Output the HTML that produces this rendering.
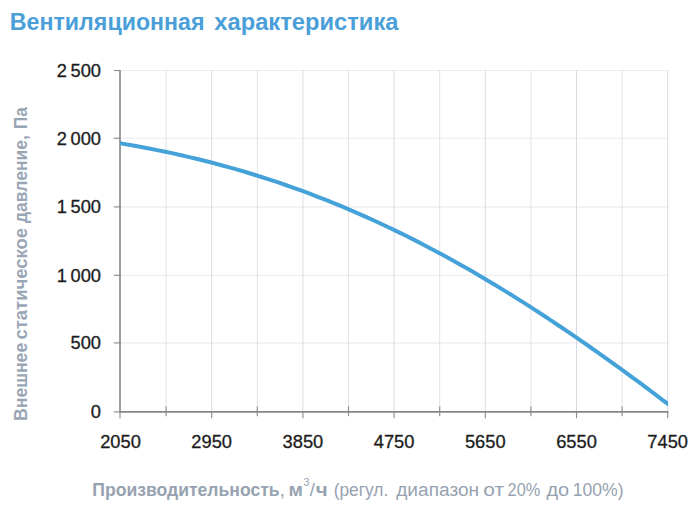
<!DOCTYPE html>
<html><head><meta charset="utf-8"><style>
html,body{margin:0;padding:0;background:#fff;}
body{width:700px;height:512px;overflow:hidden;position:relative;font-family:"Liberation Sans",sans-serif;}
svg{position:absolute;left:0;top:0;}
text{font-family:"Liberation Sans",sans-serif;}
</style></head><body>
<svg width="700" height="512" viewBox="0 0 700 512">
<g fill="#4a9fd9"><text x="9.85" y="30.00" font-size="24.8" font-weight="bold" textLength="194.67" lengthAdjust="spacingAndGlyphs">Вентиляционная</text><text x="214.34" y="30.00" font-size="24.8" font-weight="bold" textLength="184.11" lengthAdjust="spacingAndGlyphs">характеристика</text></g>
<g><line x1="120.0" y1="342.90" x2="667.7" y2="342.90" stroke="#ebecef" stroke-width="1.1"/><line x1="120.0" y1="275.30" x2="667.7" y2="275.30" stroke="#ebecef" stroke-width="1.1"/><line x1="120.0" y1="206.90" x2="667.7" y2="206.90" stroke="#ebecef" stroke-width="1.1"/><line x1="120.0" y1="138.30" x2="667.7" y2="138.30" stroke="#ebecef" stroke-width="1.1"/><line x1="120.0" y1="70.50" x2="667.7" y2="70.50" stroke="#ebecef" stroke-width="1.1"/><line x1="166.10" y1="70.5" x2="166.10" y2="411.9" stroke="#dfe2e7" stroke-width="1"/><line x1="211.70" y1="70.5" x2="211.70" y2="411.9" stroke="#d6dbe3" stroke-width="1"/><line x1="257.30" y1="70.5" x2="257.30" y2="411.9" stroke="#dfe2e7" stroke-width="1"/><line x1="302.90" y1="70.5" x2="302.90" y2="411.9" stroke="#d6dbe3" stroke-width="1"/><line x1="348.50" y1="70.5" x2="348.50" y2="411.9" stroke="#dfe2e7" stroke-width="1"/><line x1="394.10" y1="70.5" x2="394.10" y2="411.9" stroke="#d6dbe3" stroke-width="1"/><line x1="439.70" y1="70.5" x2="439.70" y2="411.9" stroke="#dfe2e7" stroke-width="1"/><line x1="485.30" y1="70.5" x2="485.30" y2="411.9" stroke="#d6dbe3" stroke-width="1"/><line x1="530.90" y1="70.5" x2="530.90" y2="411.9" stroke="#dfe2e7" stroke-width="1"/><line x1="576.50" y1="70.5" x2="576.50" y2="411.9" stroke="#d6dbe3" stroke-width="1"/><line x1="622.10" y1="70.5" x2="622.10" y2="411.9" stroke="#dfe2e7" stroke-width="1"/><line x1="667.70" y1="70.5" x2="667.70" y2="411.9" stroke="#d6dbe3" stroke-width="1"/></g>
<g stroke="#8e8e8e" stroke-width="1.15"><line x1="113.8" y1="411.90" x2="120.0" y2="411.90"/><line x1="113.8" y1="342.90" x2="120.0" y2="342.90"/><line x1="113.8" y1="275.30" x2="120.0" y2="275.30"/><line x1="113.8" y1="206.90" x2="120.0" y2="206.90"/><line x1="113.8" y1="138.30" x2="120.0" y2="138.30"/><line x1="113.8" y1="70.50" x2="120.0" y2="70.50"/><line x1="120.00" y1="411.9" x2="120.00" y2="418.20"/><line x1="166.10" y1="406.40" x2="166.10" y2="416.20"/><line x1="211.70" y1="411.9" x2="211.70" y2="418.20"/><line x1="257.30" y1="406.40" x2="257.30" y2="416.20"/><line x1="302.90" y1="411.9" x2="302.90" y2="418.20"/><line x1="348.50" y1="406.40" x2="348.50" y2="416.20"/><line x1="394.10" y1="411.9" x2="394.10" y2="418.20"/><line x1="439.70" y1="406.40" x2="439.70" y2="416.20"/><line x1="485.30" y1="411.9" x2="485.30" y2="418.20"/><line x1="530.90" y1="406.40" x2="530.90" y2="416.20"/><line x1="576.50" y1="411.9" x2="576.50" y2="418.20"/><line x1="622.10" y1="406.40" x2="622.10" y2="416.20"/><line x1="667.70" y1="411.9" x2="667.70" y2="418.20"/></g>
<line x1="120.0" y1="70.0" x2="120.0" y2="412.65" stroke="#858585" stroke-width="1.6"/>
<line x1="120.0" y1="411.9" x2="668.45" y2="411.9" stroke="#858585" stroke-width="1.6"/>
<defs><clipPath id="pc"><rect x="120.0" y="0" width="548.00" height="512"/></clipPath></defs>
<path d="M117.0,142.8 L125.0,144.1 L133.1,145.5 L141.1,147.0 L149.1,148.5 L157.1,150.1 L165.2,151.7 L173.2,153.4 L181.2,155.2 L189.3,157.1 L197.3,159.0 L205.3,161.0 L213.3,163.0 L221.4,165.2 L229.4,167.4 L237.4,169.7 L245.5,172.0 L253.5,174.5 L261.5,177.0 L269.6,179.6 L277.6,182.2 L285.6,185.0 L293.6,187.8 L301.7,190.7 L309.7,193.7 L317.7,196.8 L325.8,199.9 L333.8,203.1 L341.8,206.4 L349.8,209.8 L357.9,213.3 L365.9,216.9 L373.9,220.5 L382.0,224.2 L390.0,228.0 L398.0,231.9 L406.0,235.8 L414.1,239.9 L422.1,244.0 L430.1,248.2 L438.2,252.5 L446.2,256.8 L454.2,261.2 L462.2,265.7 L470.3,270.3 L478.3,275.0 L486.3,279.7 L494.4,284.5 L502.4,289.4 L510.4,294.3 L518.4,299.4 L526.5,304.4 L534.5,309.6 L542.5,314.8 L550.6,320.1 L558.6,325.5 L566.6,330.9 L574.7,336.4 L582.7,341.9 L590.7,347.5 L598.7,353.2 L606.8,358.9 L614.8,364.6 L622.8,370.4 L630.9,376.3 L638.9,382.2 L646.9,388.2 L654.9,394.2 L663.0,400.3 L671.0,406.3" clip-path="url(#pc)" fill="none" stroke="#45a2d9" stroke-width="4" stroke-linecap="butt" stroke-linejoin="round"/>
<g font-size="18.3" fill="#1c1c1c" stroke="#1c1c1c" stroke-width="0.3"><text x="101" y="418.20" text-anchor="end">0</text><text x="101" y="349.20" text-anchor="end">500</text><text x="101" y="281.60" text-anchor="end">1 000</text><text x="101" y="213.20" text-anchor="end">1 500</text><text x="101" y="144.60" text-anchor="end">2 000</text><text x="101" y="76.80" text-anchor="end">2 500</text><text x="120.50" y="447.6" text-anchor="middle">2050</text><text x="211.70" y="447.6" text-anchor="middle">2950</text><text x="302.90" y="447.6" text-anchor="middle">3850</text><text x="394.10" y="447.6" text-anchor="middle">4750</text><text x="485.30" y="447.6" text-anchor="middle">5650</text><text x="576.50" y="447.6" text-anchor="middle">6550</text><text x="667.70" y="447.6" text-anchor="middle">7450</text></g>
<g transform="translate(26.8,0) rotate(-90)" fill="#99a6b6"><text x="-420.98" y="0.00" font-size="17.5" font-weight="bold" textLength="78.18" lengthAdjust="spacingAndGlyphs">Внешнее</text><text x="-339.42" y="0.00" font-size="17.5" font-weight="bold" textLength="111.34" lengthAdjust="spacingAndGlyphs">статическое</text><text x="-223.02" y="0.00" font-size="17.5" font-weight="bold" textLength="87.88" lengthAdjust="spacingAndGlyphs">давление,</text><text x="-129.26" y="0.00" font-size="17.5" font-weight="bold" textLength="22.15" lengthAdjust="spacingAndGlyphs">Па</text></g>
<g fill="#97a2b0"><text x="92.33" y="495.60" font-size="18.5" font-weight="bold" textLength="187.30" lengthAdjust="spacingAndGlyphs">Производительность</text><text x="279.63" y="495.60" font-size="18.5">,</text><text x="288.64" y="495.60" font-size="18.5" font-weight="bold" textLength="14.42" lengthAdjust="spacingAndGlyphs">м</text><text x="303.59" y="486.00" font-size="11" textLength="5.98" lengthAdjust="spacingAndGlyphs">3</text><text x="309.73" y="495.60" font-size="18.5">/</text><text x="315.76" y="495.60" font-size="18.5" font-weight="bold" textLength="11.96" lengthAdjust="spacingAndGlyphs">ч</text><text x="333.63" y="495.60" font-size="19.2" textLength="54.64" lengthAdjust="spacingAndGlyphs">(регул.</text><text x="396.21" y="495.60" font-size="19.2" textLength="82.90" lengthAdjust="spacingAndGlyphs">диапазон</text><text x="483.34" y="495.60" font-size="19.2" textLength="20.81" lengthAdjust="spacingAndGlyphs">от</text><text x="507.58" y="495.60" font-size="19.2" textLength="32.70" lengthAdjust="spacingAndGlyphs">20%</text><text x="546.41" y="495.60" font-size="19.2" textLength="22.73" lengthAdjust="spacingAndGlyphs">до</text><text x="572.66" y="495.60" font-size="19.2" textLength="50.93" lengthAdjust="spacingAndGlyphs">100%)</text></g>
</svg>
</body></html>
